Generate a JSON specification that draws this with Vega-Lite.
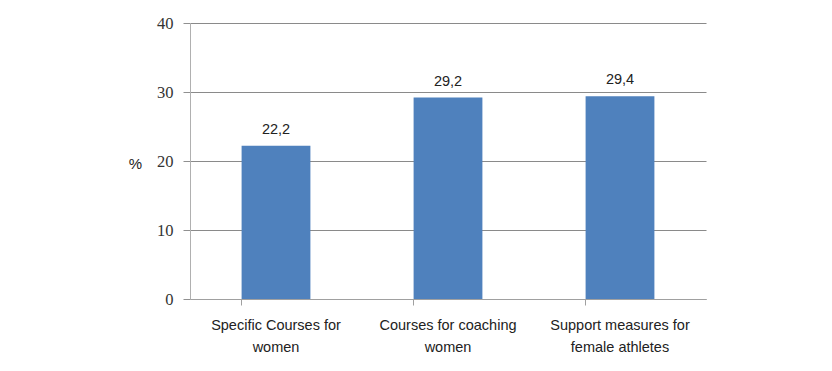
{
  "$schema": "https://vega.github.io/schema/vega-lite/v6.json",
  "width": 516,
  "height": 276,
  "autosize": {"type": "none"},
  "padding": {"left": 190, "top": 23, "right": 126, "bottom": 72},
  "background": "white",
  "data": {"values": [
    {"category": "Specific Courses for\nwomen", "value": 22.2, "label": "22,2"},
    {"category": "Courses for coaching\nwomen", "value": 29.2, "label": "29,2"},
    {"category": "Support measures for\nfemale athletes", "value": 29.4, "label": "29,4"}
  ]},
  "encoding": {
    "x": {
      "field": "category", "type": "nominal", "sort": null,
      "scale": {"paddingInner": 0.6, "paddingOuter": 0.3},
      "axis": {
        "title": null, "labelAngle": 0, "labelExpr": "split(datum.label, '\\n')",
        "bandPosition": 0, "ticks": true, "tickSize": 6, "tickColor": "#a0a0a0",
        "domainColor": "#a0a0a0", "labelFont": "Liberation Sans", "labelFontSize": 14.5,
        "labelColor": "#222", "labelPadding": 20, "labelLineHeight": 22, "labelBaseline": "middle",
        "grid": false
      }
    },
    "y": {
      "field": "value", "type": "quantitative",
      "scale": {"domain": [0, 40]},
      "axis": {
        "values": [0, 10, 20, 30, 40], "title": "%", "titleAngle": 0, "titleX": -55, "titleY": 140,
        "titleAlign": "center", "titleBaseline": "middle", "titleFont": "Liberation Sans",
        "titleFontSize": 15, "titleFontWeight": "normal", "titleColor": "#222",
        "labelFont": "Liberation Serif", "labelFontSize": 16.5, "labelColor": "#333", "labelPadding": 10,
        "tickSize": 7, "tickColor": "#909090", "domainColor": "#b0b0b0",
        "grid": true, "gridColor": "#8a8a8a", "gridWidth": 1.2
      }
    }
  },
  "layer": [
    {"mark": {"type": "bar", "color": "#4F81BD"}},
    {"mark": {"type": "text", "baseline": "middle", "dy": -16, "font": "Liberation Sans", "fontSize": 14.5, "color": "#222"},
     "encoding": {"text": {"field": "label", "type": "nominal"}}}
  ],
  "config": {"view": {"stroke": null}}
}
